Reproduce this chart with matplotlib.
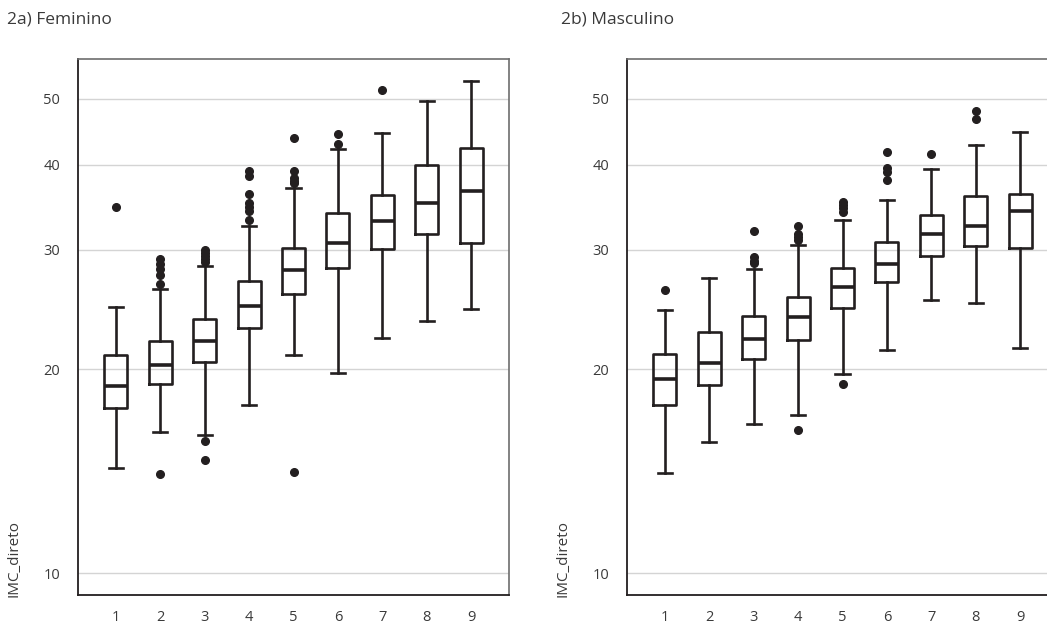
import matplotlib
matplotlib.use("Agg")
import matplotlib.pyplot as plt
from matplotlib.ticker import FixedLocator, NullLocator, FixedFormatter

plt.rcParams['font.family'] = ['Open Sans', 'DejaVu Sans']

categories = ['1', '2', '3', '4', '5', '6', '7', '8', '9']

# Feminino
fem_whislo = [14.3, 16.15, 16.0, 17.7, 21.0, 19.7, 22.2, 23.55, 24.5]
fem_q1     = [17.5, 19.0, 20.5, 23.0, 25.8, 28.2, 30.1, 31.6, 30.65]
fem_med    = [18.9, 20.3, 22.0, 24.8, 28.0, 30.7, 33.0, 35.1, 36.6]
fem_q3     = [21.0, 22.0, 23.7, 27.0, 30.2, 34.0, 36.1, 40.0, 42.3]
fem_whishi = [24.7, 26.25, 28.4, 32.5, 37.0, 42.2, 44.6, 49.7, 53.1]
fem_fliers = [
    [34.6],
    [29.0, 28.6, 28.1, 27.5, 26.7, 14.0],
    [29.9, 29.6, 29.3, 29.0, 28.75, 15.66, 14.7],
    [39.2, 38.5, 36.2, 35.1, 34.7, 34.2, 33.2],
    [43.8, 39.2, 38.2, 37.9, 37.6, 14.1],
    [44.4, 42.9],
    [51.6],
    [],
    [],
]

# Masculino
mas_whislo = [14.04, 15.63, 16.6, 17.1, 19.66, 21.3, 25.3, 25.0, 21.5]
mas_q1     = [17.7, 18.94, 20.67, 22.06, 24.58, 26.83, 29.36, 30.34, 30.13]
mas_med    = [19.35, 20.39, 22.13, 23.82, 26.43, 28.54, 31.6, 32.5, 34.13]
mas_q3     = [21.04, 22.65, 23.93, 25.55, 28.16, 30.73, 33.71, 35.98, 36.16]
mas_whishi = [24.4, 27.25, 28.04, 30.44, 33.2, 35.43, 39.43, 42.74, 44.77]
mas_fliers = [
    [26.14],
    [],
    [31.96, 29.2, 28.9, 28.65],
    [32.47, 31.67, 31.3, 30.96, 16.27],
    [35.26, 34.9, 34.5, 34.1, 18.98],
    [41.7, 39.6, 39.0, 38.0],
    [41.45],
    [47.96, 46.7],
    [],
]

yticks = [10, 20, 30, 40, 50]
ylabel = 'IMC_direto'
titles = ['2a) Feminino', '2b) Masculino']

W, H = 1047, 624
fig = plt.figure(figsize=(W / 100, H / 100), dpi=100)

def make_stats(lo, q1, med, q3, hi, fl):
    return [dict(whislo=a, q1=b, med=c, q3=d, whishi=e, fliers=f, label=lab)
            for a, b, c, d, e, f, lab in zip(lo, q1, med, q3, hi, fl, categories)]

panels = [
    (make_stats(fem_whislo, fem_q1, fem_med, fem_q3, fem_whishi, fem_fliers), 78),
    (make_stats(mas_whislo, mas_q1, mas_med, mas_q3, mas_whishi, mas_fliers), 627),
]

txt_color = '#3a3a3a'
ax_top, ax_bot = 59.3, 595
for i, (stats, left) in enumerate(panels):
    ax = fig.add_axes([left / W, 1 - ax_bot / H, 431 / W, (ax_bot - ax_top) / H])
    ax.set_yscale('log')
    ax.set_ylim(9.29, 57.2)
    ax.set_xlim(0.15, 9.85)
    ax.yaxis.set_major_locator(FixedLocator(yticks))
    ax.yaxis.set_major_formatter(FixedFormatter([str(t) for t in yticks]))
    ax.yaxis.set_minor_locator(NullLocator())
    ax.grid(axis='y', color='#d4d4d4', linewidth=1.0)
    ax.set_axisbelow(True)
    lw = 1.9
    ax.bxp(stats, positions=range(1, 10), widths=0.52, showfliers=True,
           boxprops=dict(color='#231f20', linewidth=lw),
           whiskerprops=dict(color='#231f20', linewidth=lw),
           capprops=dict(color='#231f20', linewidth=lw),
           medianprops=dict(color='#231f20', linewidth=2.6),
           flierprops=dict(marker='o', markerfacecolor='#231f20',
                           markeredgecolor='#231f20', markersize=5.5),
           capwidths=0.32)
    ax.tick_params(axis='both', length=0, labelsize=10.5, colors=txt_color)
    ax.tick_params(axis='y', pad=13)
    ax.tick_params(axis='x', pad=11)
    for s in ['top', 'right']:
        ax.spines[s].set_color('#6d6d6d')
        ax.spines[s].set_linewidth(1.2)
    for s in ['bottom', 'left']:
        ax.spines[s].set_color('#231f20')
        ax.spines[s].set_linewidth(1.3)
    fig.text((left - 64) / W, 1 - 597 / H, ylabel, rotation=90, ha='center',
             va='bottom', fontsize=11, color=txt_color)
    fig.text((7 if i == 0 else 561) / W, 1 - 20 / H, titles[i],
             ha='left', va='center', fontsize=12.5, color=txt_color)

fig.savefig('out.png', dpi=100)
